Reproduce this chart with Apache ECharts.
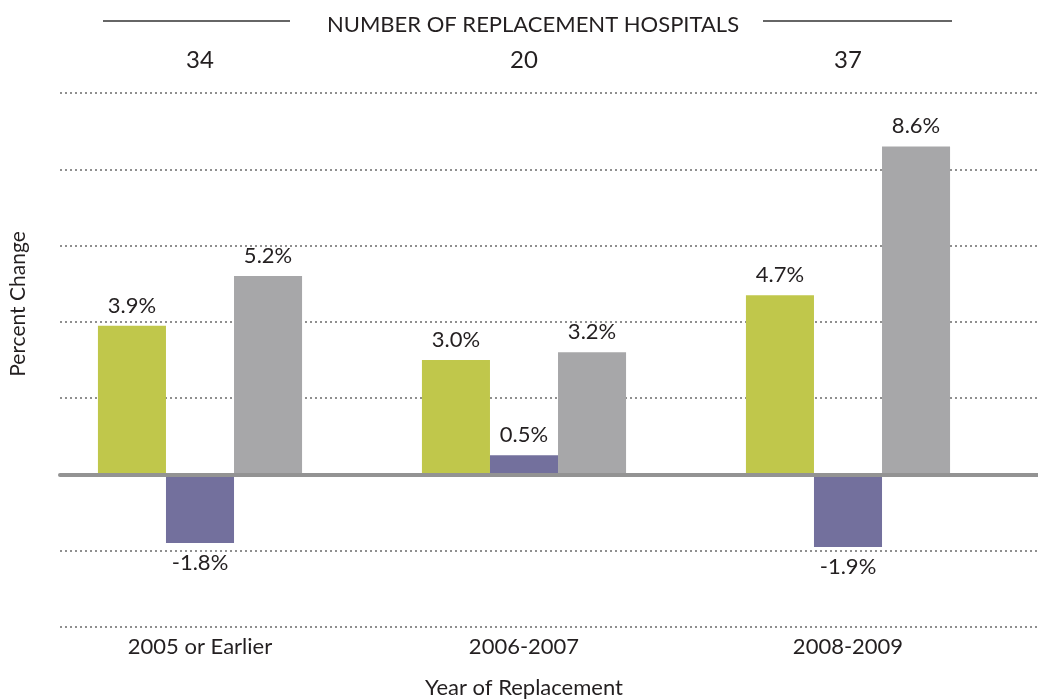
<!DOCTYPE html>
<html><head><meta charset="utf-8">
<script src="https://cdn.jsdelivr.net/npm/echarts@6/dist/echarts.min.js"></script>
<style>html,body{margin:0;padding:0;background:#fff}#c{width:1038px;height:700px}</style>
</head><body><div id="c"></div>
<script>
const categories = ['2005 or Earlier', '2006-2007', '2008-2009'];
const hospitalCounts = ['34', '20', '37'];
const seriesA = [3.9, 3.0, 4.7];
const seriesB = [-1.8, 0.5, -1.9];
const seriesC = [5.2, 3.2, 8.6];
const yMin = -4, yMax = 10, yStep = 2;

const FONT = 'Lato, "Open Sans", sans-serif';
const TXT = '#231f20';
function mk(vals) {
  return vals.map(v => ({ value: v, label: { position: v < 0 ? 'bottom' : 'top' } }));
}
const labelCfg = { show: true, formatter: p => p.value.toFixed(1) + '%', fontFamily: FONT, fontSize: 22, color: TXT, distance: 9 };
const chart = echarts.init(document.getElementById('c'));
chart.setOption({
  animation: false,
  title: { text: 'NUMBER OF REPLACEMENT HOSPITALS', left: 528, textAlign: 'center', top: 9, textStyle: { fontFamily: FONT, fontSize: 22, fontWeight: 'normal', color: TXT } },
  graphic: [
    { type: 'line', shape: { x1: 103, y1: 21, x2: 290, y2: 21 }, style: { stroke: '#333', lineWidth: 1.5 } },
    { type: 'line', shape: { x1: 763, y1: 21, x2: 952, y2: 21 }, style: { stroke: '#333', lineWidth: 1.5 } }
  ],
  grid: [
    { left: 38, right: 28, top: 93, bottom: 73, outerBoundsMode: 'none', containLabel: false },
    { left: 60, right: 0, top: 93, bottom: 73, outerBoundsMode: 'none', containLabel: false }
  ],
  xAxis: [
    { type: 'category', gridIndex: 0, data: categories, position: 'bottom', axisLine: { show: false, onZero: false }, axisTick: { show: false },
      axisLabel: { fontFamily: FONT, fontSize: 22, color: TXT, margin: 9 },
      name: 'Year of Replacement', nameLocation: 'middle', nameGap: 50, nameTextStyle: { fontFamily: FONT, fontSize: 22, color: TXT } },
    { type: 'category', gridIndex: 0, data: hospitalCounts, position: 'top', axisLine: { show: false }, axisTick: { show: false },
      axisLabel: { fontFamily: FONT, fontSize: 24, color: TXT, margin: 21 } },
    { type: 'category', gridIndex: 1, data: categories, z: 5, axisLine: { show: true, onZero: true, lineStyle: { color: '#939393', width: 4 } }, axisTick: { show: false }, axisLabel: { show: false } }
  ],
  yAxis: [
    { type: 'value', gridIndex: 0, min: yMin, max: yMax, interval: yStep, show: false, splitLine: { show: false } },
    { type: 'value', gridIndex: 1, min: yMin, max: yMax, interval: yStep, axisLine: { show: false }, axisTick: { show: false }, axisLabel: { show: false },
      splitLine: { show: true, lineStyle: { color: '#8f8f8f', type: [2, 3], width: 2 } },
      name: 'Percent Change', nameLocation: 'middle', nameGap: 31, nameRotate: 90, nameTextStyle: { fontFamily: FONT, fontSize: 21, color: TXT, padding: [0, 0, 0, 112] } }
  ],
  series: [
    { type: 'bar', xAxisIndex: 0, yAxisIndex: 0, data: mk(seriesA), itemStyle: { color: '#c0c74b' }, barGap: '0%', barCategoryGap: '37%', label: labelCfg },
    { type: 'bar', xAxisIndex: 0, yAxisIndex: 0, data: mk(seriesB), itemStyle: { color: '#73709d' }, barGap: '0%', barCategoryGap: '37%', label: labelCfg },
    { type: 'bar', xAxisIndex: 0, yAxisIndex: 0, data: mk(seriesC), itemStyle: { color: '#a7a7a9' }, barGap: '0%', barCategoryGap: '37%', label: labelCfg }
  ]
});
</script></body></html>
